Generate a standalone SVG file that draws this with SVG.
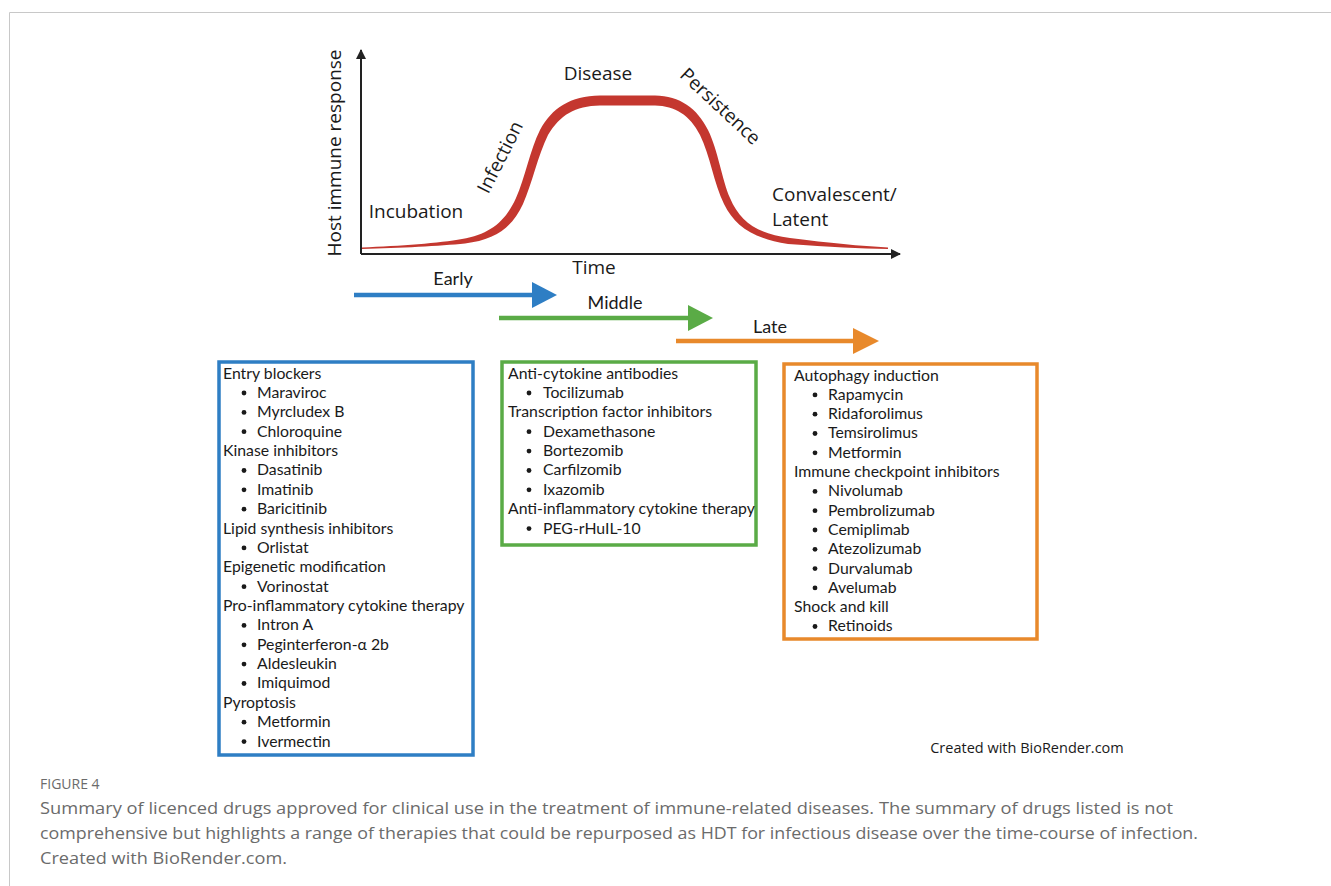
<svg xmlns="http://www.w3.org/2000/svg" width="1331" height="886" viewBox="0 0 1331 886">
<style>
.lbl{font-family:"Open Sans","Liberation Sans",sans-serif;font-size:19px;fill:#1a1a1a}
.ph{font-family:Lato,"Liberation Sans",sans-serif;font-size:18px;fill:#1a1a1a}
.bx{font-family:Lato,"Liberation Sans",sans-serif;font-size:15.8px;fill:#1a1a1a}
.cap{font-family:"Open Sans","Liberation Sans",sans-serif;font-size:16.5px;fill:#6b6b6b}
.fig{font-family:"Open Sans","Liberation Sans",sans-serif;font-size:14px;fill:#6b6b6b}
.axis{stroke:#222;stroke-width:2;fill:none}
</style>
<defs>
<marker id="ah" viewBox="0 0 10 10" refX="9" refY="5" markerWidth="5" markerHeight="5" orient="auto"><path d="M0,0 L10,5 L0,10 Z" fill="#222"/></marker>
</defs>
<rect width="1331" height="886" fill="#fff"/>
<path d="M9.5,886 V12.5 H1331" fill="none" stroke="#c8c8c8" stroke-width="1"/>

<g id="chart">
<line class="axis" x1="361" y1="254" x2="361" y2="50" marker-end="url(#ah)"/>
<line class="axis" x1="361" y1="254" x2="900" y2="254" marker-end="url(#ah)"/>
<path id="curve" fill="#c4372f" d="M362,247.5 C400,246 440,243 462,239 C490,234 505,222 516,198 C525,178 530,150 540,130 C552,108 570,96 600,95.5 L655,95.5 C680,96 697,108 708,130 C718,150 722,180 730,198 C740,222 758,234 790,238 C830,243 860,246 888,247.5 L888,249 C860,248.5 830,247 788,244 C752,238 735,226 724,204 C714,184 710,155 700,135 C690,115 675,106 655,105.5 L600,105.5 C575,106 560,115 548,135 C538,155 532,184 523,204 C512,228 495,240 465,243.5 C440,246 400,248 362,249 Z"/>
<text class="lbl" transform="translate(341,153) rotate(-90)" text-anchor="middle">Host immune response</text>
<text class="lbl" x="594" y="274" text-anchor="middle">Time</text>
<text class="lbl" x="416" y="218" text-anchor="middle">Incubation</text>
<text class="lbl" x="598" y="80" text-anchor="middle">Disease</text>
<text class="lbl" transform="translate(506,160) rotate(-63)" text-anchor="middle">Infection</text>
<text class="lbl" transform="translate(716,111) rotate(43)" text-anchor="middle">Persistence</text>
<text class="lbl" x="772" y="201">Convalescent/</text>
<text class="lbl" x="772" y="226">Latent</text>
</g>

<g id="phases">
<g id="early">
<line x1="354" y1="295" x2="535" y2="295" stroke="#2e7ec4" stroke-width="4.5"/>
<path d="M532,282 L557,295 L532,308 Z" fill="#2e7ec4"/>
<text class="ph" x="453" y="285" text-anchor="middle">Early</text>
</g>
<g id="middle">
<line x1="499" y1="318" x2="690" y2="318" stroke="#5aab46" stroke-width="4.5"/>
<path d="M688,305 L713,318 L688,331 Z" fill="#5aab46"/>
<text class="ph" x="615" y="309" text-anchor="middle">Middle</text>
</g>
<g id="late">
<line x1="676" y1="341" x2="856" y2="341" stroke="#e8892b" stroke-width="4.5"/>
<path d="M853,328 L879,341 L853,354 Z" fill="#e8892b"/>
<text class="ph" x="770" y="333" text-anchor="middle">Late</text>
</g>
</g>

<g id="box-early">
<rect x="219" y="362" width="254" height="393" fill="none" stroke="#2e7ec4" stroke-width="3.5"/>
<g class="bx">
<text x="223" y="378.5">Entry blockers</text>
<text x="257" y="397.9">Maraviroc</text>
<text x="257" y="417.3">Myrcludex B</text>
<text x="257" y="436.6">Chloroquine</text>
<text x="223" y="456">Kinase inhibitors</text>
<text x="257" y="475.4">Dasatinib</text>
<text x="257" y="494.7">Imatinib</text>
<text x="257" y="514.1">Baricitinib</text>
<text x="223" y="533.5">Lipid synthesis inhibitors</text>
<text x="257" y="552.8">Orlistat</text>
<text x="223" y="572.2">Epigenetic modification</text>
<text x="257" y="591.6">Vorinostat</text>
<text x="223" y="610.9">Pro-inflammatory cytokine therapy</text>
<text x="257" y="630.3">Intron A</text>
<text x="257" y="649.7">Peginterferon-α 2b</text>
<text x="257" y="669">Aldesleukin</text>
<text x="257" y="688.4">Imiquimod</text>
<text x="223" y="707.8">Pyroptosis</text>
<text x="257" y="727.1">Metformin</text>
<text x="257" y="746.5">Ivermectin</text>
</g>
<g fill="#1a1a1a">
<circle cx="244" cy="393" r="2.4"/><circle cx="244" cy="412.4" r="2.4"/><circle cx="244" cy="431.7" r="2.4"/>
<circle cx="244" cy="470.5" r="2.4"/><circle cx="244" cy="489.8" r="2.4"/><circle cx="244" cy="509.2" r="2.4"/>
<circle cx="244" cy="547.9" r="2.4"/><circle cx="244" cy="586.7" r="2.4"/>
<circle cx="244" cy="625.4" r="2.4"/><circle cx="244" cy="644.8" r="2.4"/><circle cx="244" cy="664.1" r="2.4"/><circle cx="244" cy="683.5" r="2.4"/>
<circle cx="244" cy="722.2" r="2.4"/><circle cx="244" cy="741.6" r="2.4"/>
</g>
</g>

<g id="box-middle">
<rect x="502" y="362" width="254" height="183" fill="none" stroke="#5aab46" stroke-width="3.5"/>
<g class="bx">
<text x="508" y="378.5">Anti-cytokine antibodies</text>
<text x="543" y="397.9">Tocilizumab</text>
<text x="508" y="417.3">Transcription factor inhibitors</text>
<text x="543" y="436.6">Dexamethasone</text>
<text x="543" y="456">Bortezomib</text>
<text x="543" y="475.4">Carfilzomib</text>
<text x="543" y="494.7">Ixazomib</text>
<text x="508" y="514.1">Anti-inflammatory cytokine therapy</text>
<text x="543" y="533.5">PEG-rHuIL-10</text>
</g>
<g fill="#1a1a1a">
<circle cx="529" cy="393" r="2.4"/>
<circle cx="529" cy="431.7" r="2.4"/><circle cx="529" cy="451.1" r="2.4"/><circle cx="529" cy="470.5" r="2.4"/><circle cx="529" cy="489.8" r="2.4"/>
<circle cx="529" cy="528.6" r="2.4"/>
</g>
</g>

<g id="box-late">
<rect x="784" y="364" width="253" height="275" fill="none" stroke="#e8892b" stroke-width="3.5"/>
<g class="bx">
<text x="794" y="380.5">Autophagy induction</text>
<text x="828" y="399.8">Rapamycin</text>
<text x="828" y="419.1">Ridaforolimus</text>
<text x="828" y="438.4">Temsirolimus</text>
<text x="828" y="457.7">Metformin</text>
<text x="794" y="477">Immune checkpoint inhibitors</text>
<text x="828" y="496.3">Nivolumab</text>
<text x="828" y="515.6">Pembrolizumab</text>
<text x="828" y="534.9">Cemiplimab</text>
<text x="828" y="554.2">Atezolizumab</text>
<text x="828" y="573.5">Durvalumab</text>
<text x="828" y="592.8">Avelumab</text>
<text x="794" y="612.1">Shock and kill</text>
<text x="828" y="631.4">Retinoids</text>
</g>
<g fill="#1a1a1a">
<circle cx="815" cy="394.9" r="2.4"/><circle cx="815" cy="414.2" r="2.4"/><circle cx="815" cy="433.5" r="2.4"/><circle cx="815" cy="452.8" r="2.4"/>
<circle cx="815" cy="491.4" r="2.4"/><circle cx="815" cy="510.7" r="2.4"/><circle cx="815" cy="530" r="2.4"/><circle cx="815" cy="549.3" r="2.4"/><circle cx="815" cy="568.6" r="2.4"/><circle cx="815" cy="587.9" r="2.4"/>
<circle cx="815" cy="626.5" r="2.4"/>
</g>
</g>

<text x="1027" y="753" text-anchor="middle" font-family="'Open Sans','Liberation Sans',sans-serif" font-size="14.5" fill="#1a1a1a">Created with BioRender.com</text>

<g id="caption">
<text class="fig" x="40" y="789">FIGURE 4</text>
<text class="cap" x="40" y="814" textLength="1133" lengthAdjust="spacingAndGlyphs">Summary of licenced drugs approved for clinical use in the treatment of immune-related diseases. The summary of drugs listed is not</text>
<text class="cap" x="40" y="839" textLength="1158" lengthAdjust="spacingAndGlyphs">comprehensive but highlights a range of therapies that could be repurposed as HDT for infectious disease over the time-course of infection.</text>
<text class="cap" x="40" y="864" textLength="247" lengthAdjust="spacingAndGlyphs">Created with BioRender.com.</text>
</g>
</svg>
